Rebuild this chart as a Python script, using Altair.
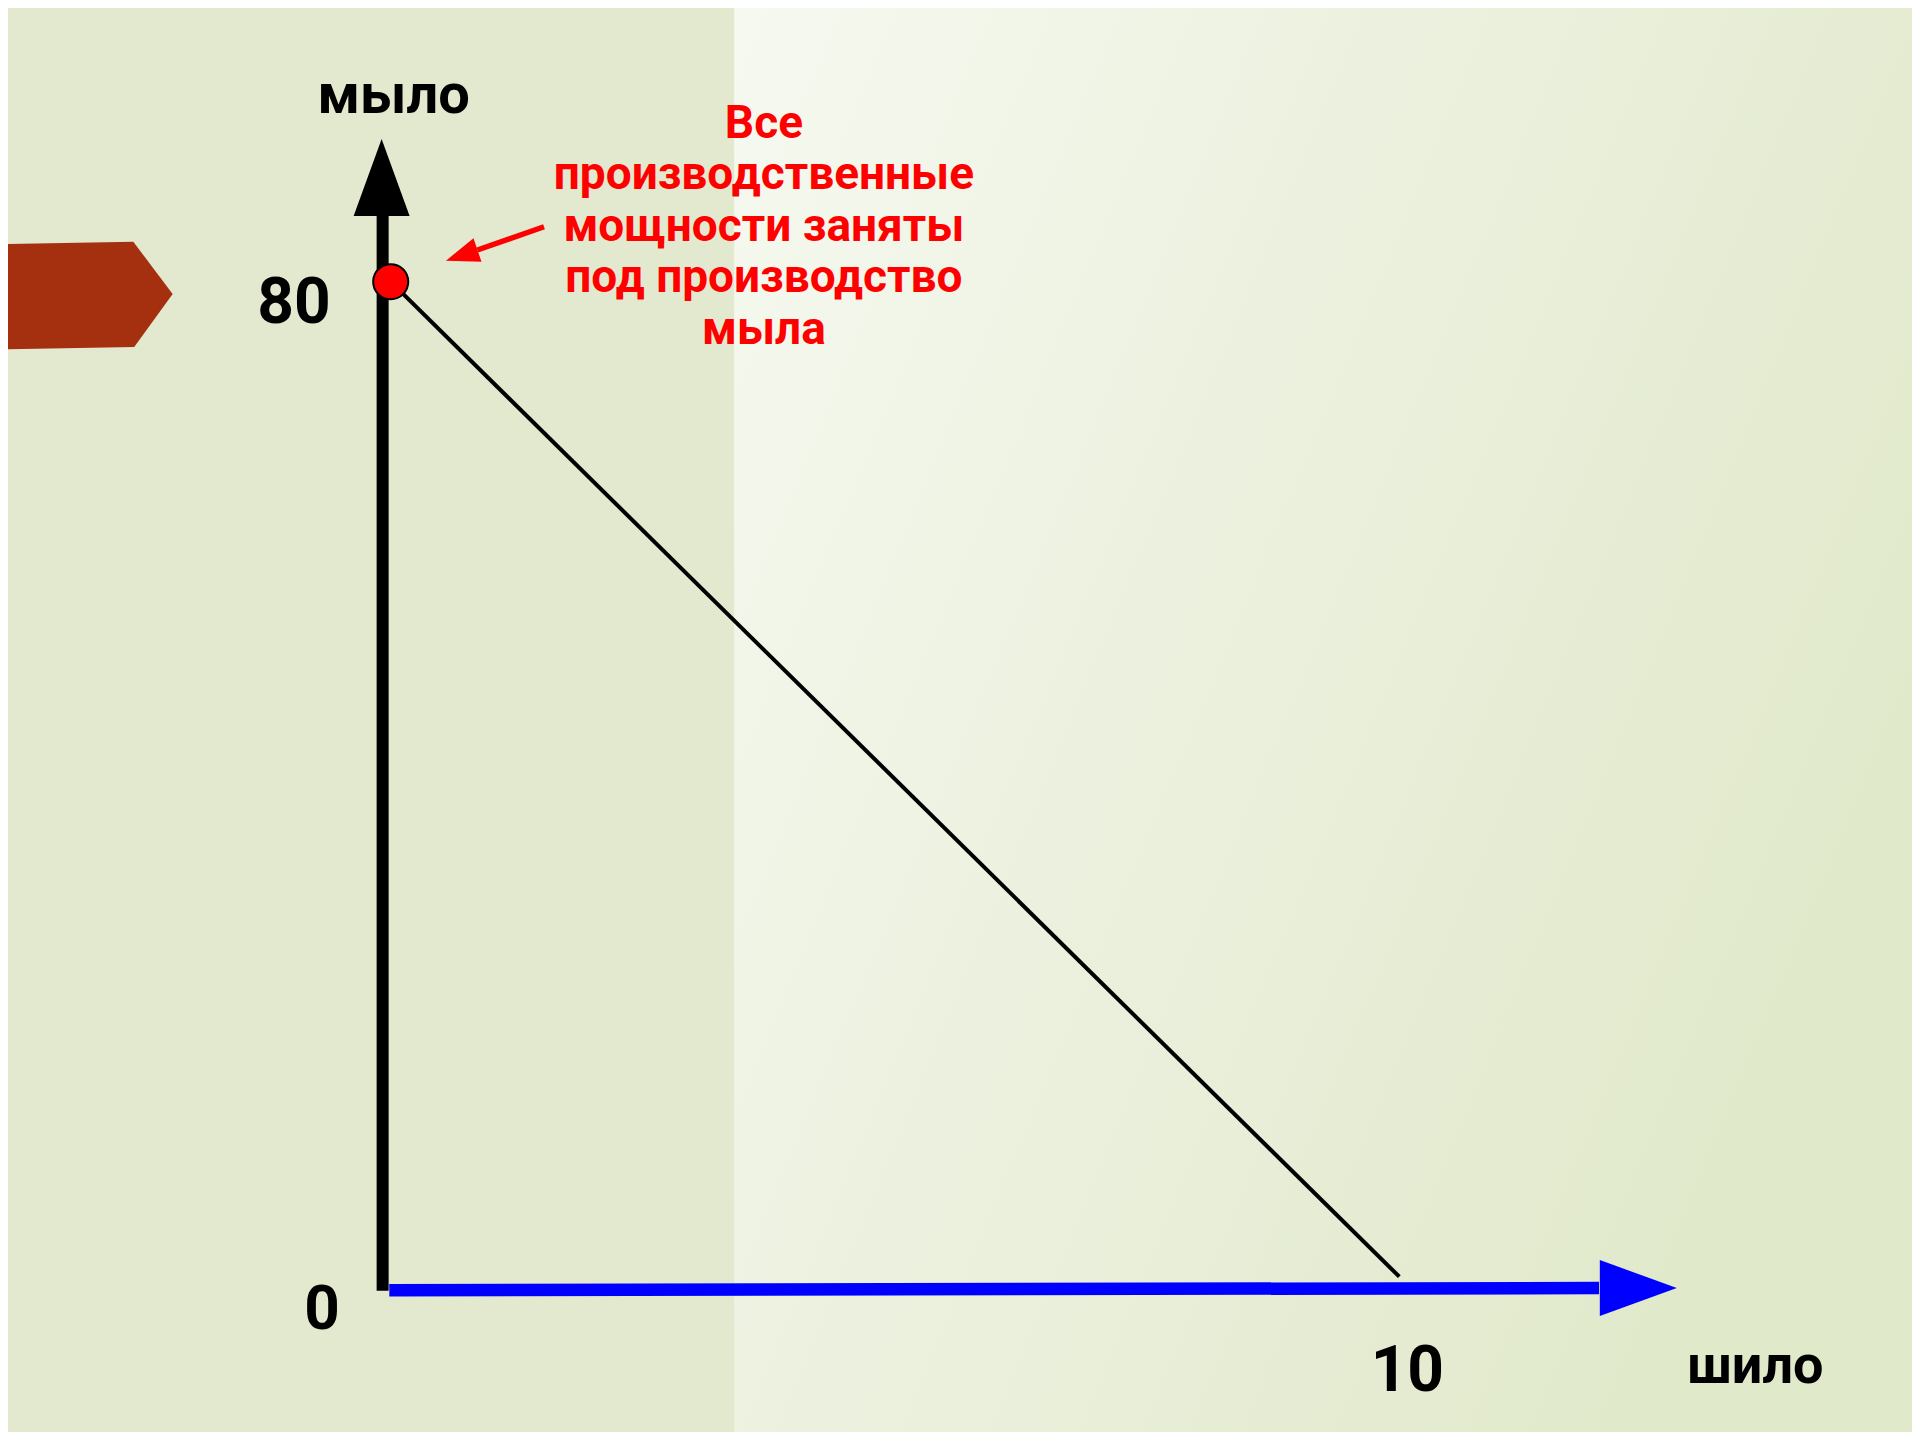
import altair as alt
import pandas as pd

# ---- data ----
ppf_shilo = [0, 10]      # x: шило
ppf_mylo = [80, 0]       # y: мыло
point_shilo = [0]
point_mylo = [80]

annotation = ["Все", "производственные", "мощности заняты", "под производство", "мыла"]

label_text = ["мыло", "шило", "80", "0", "10"]
label_x = [0.03, 13.53, -0.96, -0.68, 10.08]
label_y = [94.97, -7.26, 78.21, -2.68, -7.66]
label_size = [56, 54, 64, 62, 64]

# decorative axes (in data units)
yaxis_x = [-0.08]
yaxis_y0 = [-1.13]
yaxis_y1 = [85.3]
yhead_x = [-0.09]
yhead_y = [88.38]
xaxis_x0 = [-0.014]
xaxis_x1 = [11.98]
xaxis_y0 = [-1.09]
xaxis_y1 = [-0.91]
xhead_x = [12.37]
xhead_y = [-0.91]

# red pointer arrow
pointer_x0 = [1.52]
pointer_y0 = [84.42]
pointer_x1 = [0.86]
pointer_y1 = [82.55]
pointer_head_x = [0.704]
pointer_head_y = [82.12]

tag_x = [-3.018]
tag_y = [78.89]

bg_x0 = [3.405]

XDOM = [-3.7944, 15.0833]
YDOM = [-12.4864, 102.006]

xs = alt.Scale(domain=XDOM, nice=False, zero=False)
ys = alt.Scale(domain=YDOM, nice=False, zero=False)


def X(f):
    return alt.X(f, type="quantitative", scale=xs, axis=None)


def Y(f):
    return alt.Y(f, type="quantitative", scale=ys, axis=None)


bg = alt.Chart(pd.DataFrame({"x0": bg_x0, "x1": [XDOM[1]], "y0": [YDOM[0]], "y1": [YDOM[1]]})).mark_rect(
    color=alt.Gradient(
        gradient="linear",
        stops=[
            alt.GradientStop(color="#F6F9F0", offset=0),
            alt.GradientStop(color="#ECF1DF", offset=0.45),
            alt.GradientStop(color="#E1E9CB", offset=1),
        ],
        x1=0, y1=0, x2=1, y2=0.5,
    )
).encode(x=X("x0"), x2="x1", y=Y("y0"), y2="y1")

tag = alt.Chart(pd.DataFrame({"x": tag_x, "y": tag_y})).mark_point(
    shape="M-1,-0.596L0.544,-0.623L1,-0.017L0.555,0.596L-0.98,0.623Z",
    size=29825, filled=True, color="#A43010", opacity=1,
).encode(x=X("x"), y=Y("y"))

yaxis = alt.Chart(pd.DataFrame({"x": yaxis_x, "y0": yaxis_y0, "y1": yaxis_y1})).mark_rule(
    color="black", strokeWidth=12, strokeCap="butt"
).encode(x=X("x"), y=Y("y0"), y2="y1")

yhead = alt.Chart(pd.DataFrame({"x": yhead_x, "y": yhead_y})).mark_point(
    shape="M0,-1L0.727,1L-0.727,1Z", size=5929, filled=True, color="black", opacity=1
).encode(x=X("x"), y=Y("y"))

xaxis = alt.Chart(pd.DataFrame({"x0": xaxis_x0, "x1": xaxis_x1, "y0": xaxis_y0, "y1": xaxis_y1})).mark_rule(
    color="#0000FF", strokeWidth=12.5, strokeCap="butt"
).encode(x=X("x0"), x2="x1", y=Y("y0"), y2="y1")

xhead = alt.Chart(pd.DataFrame({"x": xhead_x, "y": xhead_y})).mark_point(
    shape="M1,0L-1,-0.727L-1,0.727Z", size=5929, filled=True, color="#0000FF", opacity=1
).encode(x=X("x"), y=Y("y"))

ppf = alt.Chart(pd.DataFrame({"шило": ppf_shilo, "мыло": ppf_mylo})).mark_line(
    color="black", strokeWidth=4
).encode(x=X("шило"), y=Y("мыло"))

dot = alt.Chart(pd.DataFrame({"шило": point_shilo, "мыло": point_mylo})).mark_point(
    shape="circle", size=1230, filled=True, fill="#FF0000", stroke="black", strokeWidth=2, opacity=1
).encode(x=X("шило"), y=Y("мыло"))

pointer = alt.Chart(pd.DataFrame({"x0": pointer_x0, "x1": pointer_x1, "y0": pointer_y0, "y1": pointer_y1})).mark_rule(
    color="#FF0000", strokeWidth=5.5, strokeCap="butt"
).encode(x=X("x0"), x2="x1", y=Y("y0"), y2="y1")

pointer_head = alt.Chart(pd.DataFrame({"x": pointer_head_x, "y": pointer_head_y})).mark_point(
    shape="M1,0L-1,-0.748L-1,0.748Z", size=1109, angle=161.3, filled=True, color="#FF0000", opacity=1
).encode(x=X("x"), y=Y("y"))

labels = alt.Chart(pd.DataFrame({"t": label_text, "x": label_x, "y": label_y, "s": label_size})).mark_text(
    font="Roboto", fontWeight="bold", color="black", align="center", baseline="middle"
).encode(x=X("x"), y=Y("y"), text="t:N", size=alt.Size("s:Q", scale=None, legend=None))

note = alt.Chart(pd.DataFrame({"t": ["\n".join(annotation)], "x": [3.70], "y": [92.70]})).mark_text(
    font="Roboto", fontWeight="bold", color="#FF0000", fontSize=46, align="center", baseline="middle",
    lineBreak="\n", lineHeight=51.5,
).encode(x=X("x"), y=Y("y"), text="t:N")

chart = alt.layer(
    bg, tag, ppf, yaxis, yhead, xaxis, xhead, dot, pointer, pointer_head, labels, note
).properties(
    width=1904, height=1424, background="#E3E9CF", padding=0,
    autosize=alt.AutoSizeParams(type="none"),
).configure_view(stroke=None)

chart.save("out.html", embed_options={"renderer": "svg", "actions": False})
